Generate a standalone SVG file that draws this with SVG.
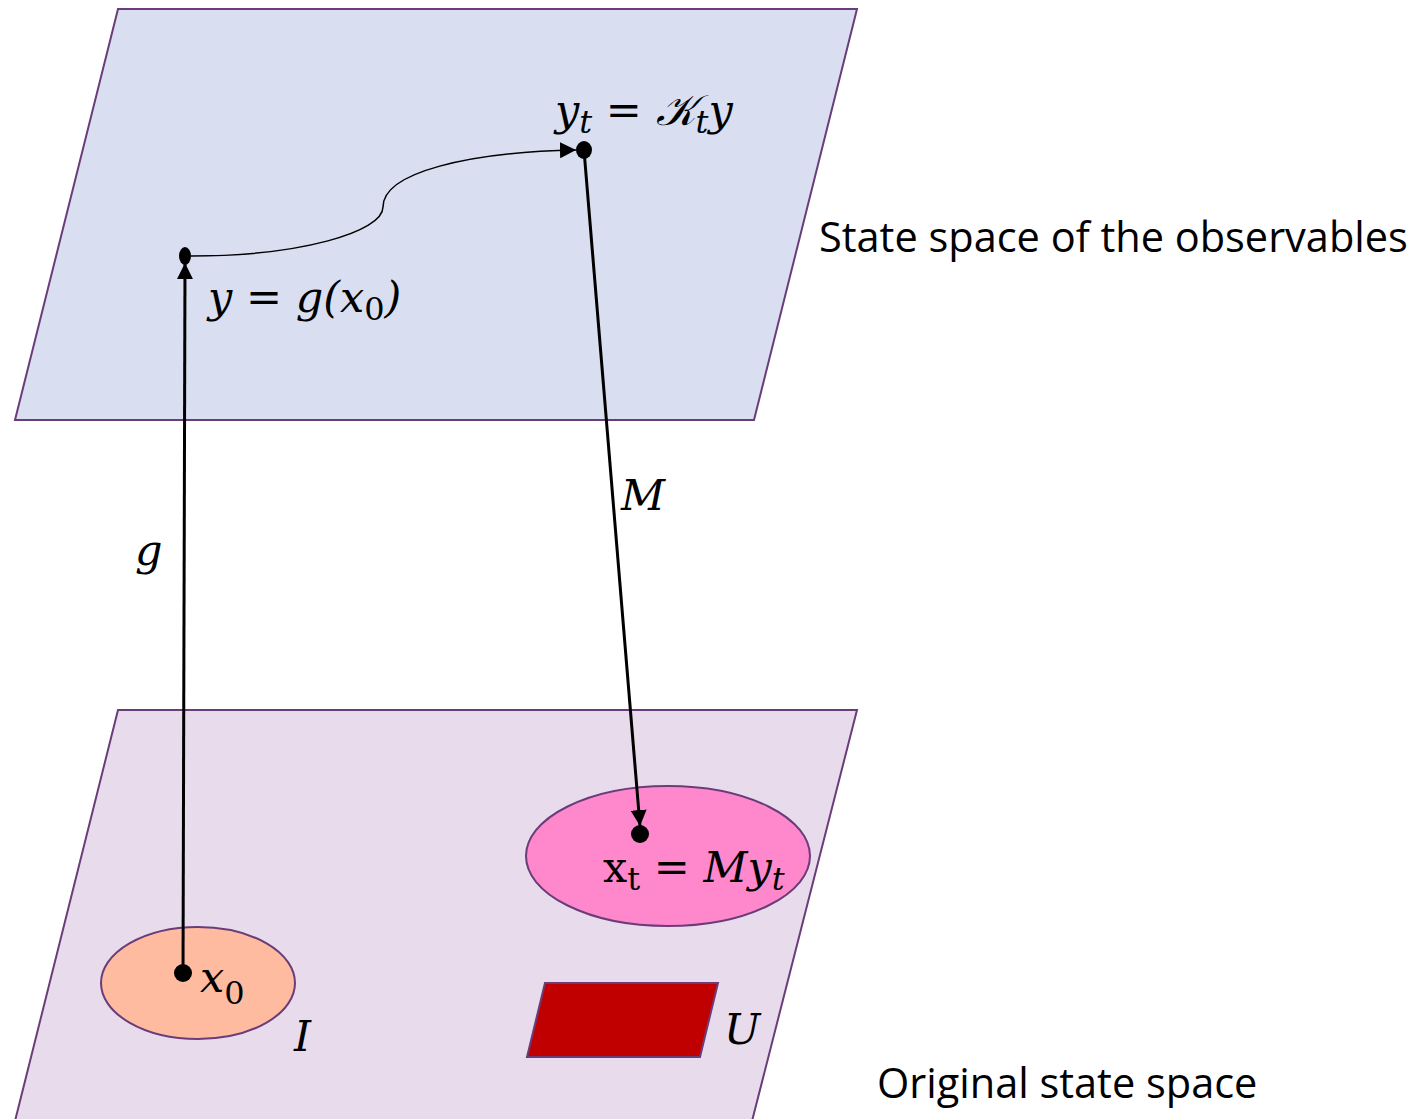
<svg xmlns="http://www.w3.org/2000/svg" width="1420" height="1119" viewBox="0 0 1420 1119">
<defs>
<style>
.plane{stroke:#6A3D7A;stroke-width:2}
.m{font-family:"DejaVu Serif","Liberation Serif",serif;font-style:italic;font-size:43px;fill:#000}
.mu{font-style:normal}
.sub{font-size:32px}
.lbl{font-family:"Open Sans","Liberation Sans",sans-serif;font-size:41.5px;fill:#000}
.conn{stroke:#000;fill:none}
</style>
<marker id="ahs" viewBox="0 0 10 10" refX="10" refY="5" markerWidth="16" markerHeight="16" markerUnits="userSpaceOnUse" orient="auto">
<path d="M0,0 L10,5 L0,10 z" fill="#000"/>
</marker>
</defs>
<rect width="1420" height="1119" fill="#fff"/>
<g id="plane-observables">
<polygon class="plane" points="118,9 857,9 754,420 15,420" fill="#D9DEF0"/>
</g>
<g id="plane-original">
<polygon class="plane" points="118,710 857,710 751,1125 14,1125" fill="#E8DCEC"/>
</g>
<g id="set-I">
<ellipse cx="198" cy="983" rx="97" ry="56" fill="#FFBBA0" stroke="#6A3D7A" stroke-width="2"/>
<text class="m" x="294" y="1051">I</text>
</g>
<g id="set-target">
<ellipse cx="668" cy="856" rx="142" ry="70" fill="#FF88CC" stroke="#6A3D7A" stroke-width="2"/>
</g>
<g id="set-U">
<polygon points="545,983 718,983 700,1057 527,1057" fill="#C00000" stroke="#6A3D7A" stroke-width="2"/>
<text class="m" x="724" y="1044">U</text>
</g>
<g id="connectors">
<line class="conn" x1="183" y1="973" x2="185" y2="263" stroke-width="3" marker-end="url(#ahs)"/>
<line class="conn" x1="584" y1="150" x2="640" y2="826" stroke-width="3" marker-end="url(#ahs)"/>
<path class="conn" d="M191,256 C300,256 383,232 383,207 C383,172 470,152 576,150" stroke-width="1.5" marker-end="url(#ahs)"/>
<text class="m" x="135" y="565">g</text>
<text class="m" x="621" y="510">M</text>
</g>
<g id="node-y">
<ellipse cx="185" cy="256" rx="6" ry="9" fill="#000"/>
<text class="m" x="208" y="312">y = g(x<tspan class="sub mu" dy="8">0</tspan><tspan dy="-8">)</tspan></text>
</g>
<g id="node-yt">
<ellipse cx="584" cy="150" rx="8" ry="9" fill="#000"/>
<text class="m" x="555" y="125">y<tspan class="sub" dy="8">t</tspan><tspan dy="-8"> = 𝒦</tspan><tspan class="sub" dy="8">t</tspan><tspan dy="-8">y</tspan></text>
</g>
<g id="node-x0">
<circle cx="183" cy="973" r="9" fill="#000"/>
<text class="m" x="200" y="992">x<tspan class="sub mu" dy="12">0</tspan></text>
</g>
<g id="node-xt">
<circle cx="640" cy="834" r="9" fill="#000"/>
<text class="m" x="603" y="882"><tspan class="mu">x</tspan><tspan class="sub mu" dy="8">t</tspan><tspan dy="-8"> = My</tspan><tspan class="sub" dy="8">t</tspan></text>
</g>
<text class="lbl" x="819" y="252">State space of the observables</text>
<text class="lbl" x="877" y="1098">Original state space</text>
</svg>
